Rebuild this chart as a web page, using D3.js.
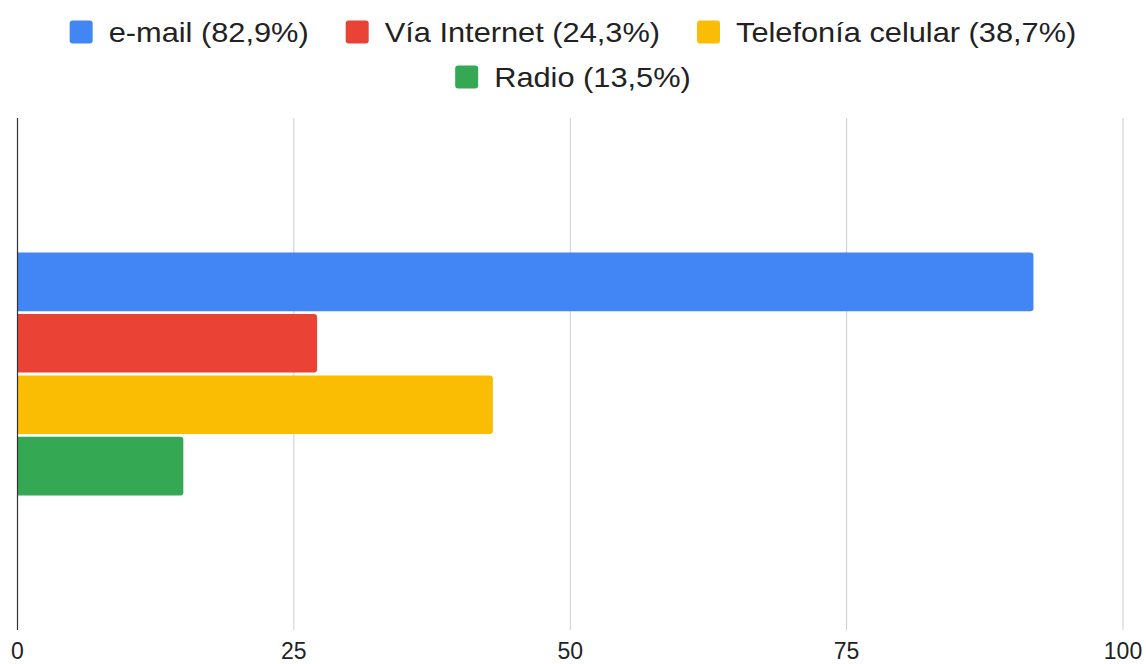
<!DOCTYPE html>
<html lang="en">
	<head>
		<meta charset="utf-8">
		<title>Medios</title>
		<script src="https://cdn.jsdelivr.net/npm/d3@7"></script>
		<style>
			body { margin: 0; background: #fff; }
			text { font-family: "Liberation Sans", Arial, sans-serif; fill: #222; }
		</style>
	</head>
	<body>
		<script>

			//Data
			var series = ["e-mail (82,9%)", "Vía Internet (24,3%)", "Telefonía celular (38,7%)", "Radio (13,5%)"];
			var values = [91.9, 27.1, 43.0, 15.0];
			var colors = ["#4285F4", "#EA4335", "#FBBC04", "#34A853"];
			var ticks = [0, 25, 50, 75, 100];

			var w = 1146, h = 664;
			var plotLeft = 17.5, plotRight = 1123, plotTop = 118, plotBottom = 630;

			var svg = d3.select("body").append("svg")
				.attr("width", w)
				.attr("height", h);

			var x = d3.scaleLinear().domain([0, 100]).range([plotLeft, plotRight]);

			var y0 = d3.scaleBand().domain(["cat"]).range([plotTop, plotBottom])
				.paddingInner(0.356).paddingOuter(0.356);
			var y1 = d3.scaleBand().domain(series).range([0, y0.bandwidth()])
				.paddingInner(0.045);

			//Gridlines
			svg.append("g").selectAll("line")
				.data(ticks.slice(1))
				.enter().append("line")
				.attr("x1", d => x(d)).attr("x2", d => x(d))
				.attr("y1", plotTop).attr("y2", plotBottom)
				.attr("stroke", "#ccc").attr("stroke-width", 1);

			//Bars, rounded right end
			var g = svg.append("g").attr("transform", "translate(0," + y0("cat") + ")");
			var r = 3;
			g.selectAll("path")
				.data(values)
				.enter().append("path")
				.attr("fill", (d, i) => colors[i])
				.attr("d", function(d, i) {
					var x0 = x(0), x1 = x(d), yy = y1(series[i]), hh = y1.bandwidth();
					return "M" + x0 + "," + yy + "H" + (x1 - r) +
						"Q" + x1 + "," + yy + " " + x1 + "," + (yy + r) +
						"V" + (yy + hh - r) +
						"Q" + x1 + "," + (yy + hh) + " " + (x1 - r) + "," + (yy + hh) +
						"H" + x0 + "Z";
				});

			//Zero line
			svg.append("line")
				.attr("x1", x(0)).attr("x2", x(0))
				.attr("y1", plotTop).attr("y2", plotBottom)
				.attr("stroke", "#333").attr("stroke-width", 1.2);

			//Tick labels
			svg.append("g").selectAll("text")
				.data(ticks)
				.enter().append("text")
				.attr("x", d => x(d))
				.attr("y", 659)
				.attr("text-anchor", "middle")
				.style("font-size", "23px")
				.text(d => d);

			//Legend
			var rows = [[0, 1, 2], [3]];
			var rowY = [32, 77];
			var fs = 27, sx = 1.14, box = 23, gapBox = 16, gapItem = 37;
			rows.forEach(function(row, ri) {
				var lg = svg.append("g");
				var cx = 0;
				row.forEach(function(i) {
					var item = lg.append("g").attr("transform", "translate(" + cx + ",0)");
					item.append("rect")
						.attr("x", 0).attr("y", rowY[ri] - box / 2)
						.attr("width", box).attr("height", box)
						.attr("rx", 3).attr("fill", colors[i]);
					var t = item.append("text")
						.attr("transform", "translate(" + (box + gapBox) + "," + rowY[ri] + ") scale(" + sx + ",1)")
						.attr("dy", "0.36em")
						.style("font-size", fs + "px")
						.text(series[i]);
					cx += box + gapBox + t.node().getComputedTextLength() * sx + gapItem;
				});
				var total = cx - gapItem;
				lg.attr("transform", "translate(" + ((w - total) / 2) + ",0)");
			});

		</script>
	</body>
</html>
